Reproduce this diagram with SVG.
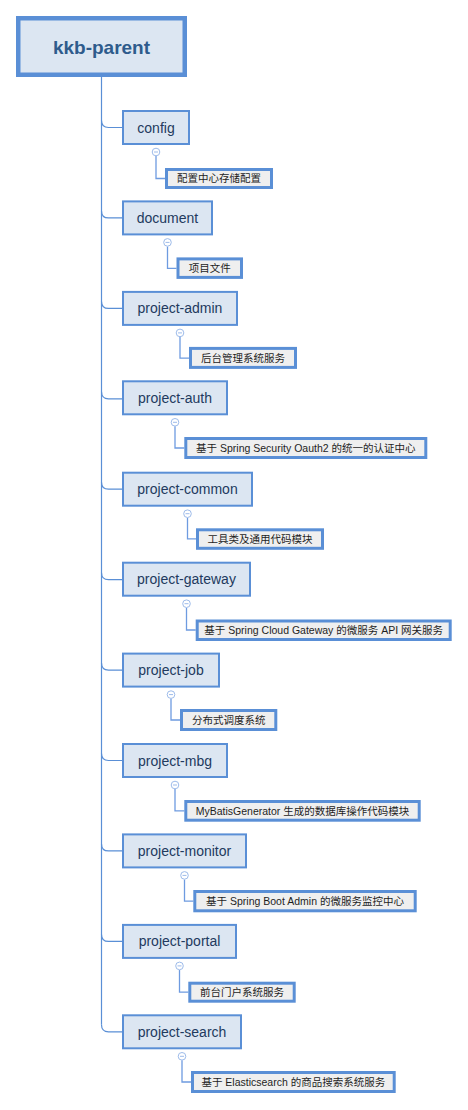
<svg xmlns="http://www.w3.org/2000/svg" width="468" height="1110" viewBox="0 0 468 1110">
<style>
.root rect{fill:#dce6f2;stroke:#5a8fd6;stroke-width:4.5}
.root text{font-family:"Liberation Sans","Noto Sans CJK SC",sans-serif;font-size:19px;font-weight:bold;fill:#2e5b8c;text-anchor:middle}
.node rect.box{fill:#dce6f2;stroke:#5a8fd6;stroke-width:2}
.node text.t{font-family:"Liberation Sans","Noto Sans CJK SC",sans-serif;font-size:14px;fill:#223a5e;text-anchor:middle}
.node rect.leaf{fill:#efefef;stroke:#5a8fd6;stroke-width:3}
.node text.l{font-family:"Liberation Sans","Noto Sans CJK SC",sans-serif;font-size:10.5px;fill:#1e1e1e;text-anchor:middle}
.node circle{fill:#fff;stroke:#9dbbea;stroke-width:1}
.node path.minus{stroke:#9dbbea;stroke-width:1}
.node path.sub{fill:none;stroke:#6e9be0;stroke-width:1.3}
.conn path{fill:none;stroke:#5a8fd6;stroke-width:1.2}
</style>
<g id="connectors" class="conn">
<path d="M101.5 77 V1024.8"/>
<path d="M101.5 120.5 Q101.5 127.5 108.5 127.5 H122"/>
<path d="M101.5 210.9 Q101.5 217.9 108.5 217.9 H122"/>
<path d="M101.5 301.4 Q101.5 308.4 108.5 308.4 H122"/>
<path d="M101.5 391.8 Q101.5 398.8 108.5 398.8 H122"/>
<path d="M101.5 482.2 Q101.5 489.2 108.5 489.2 H122"/>
<path d="M101.5 572.7 Q101.5 579.7 108.5 579.7 H122"/>
<path d="M101.5 663.1 Q101.5 670.1 108.5 670.1 H122"/>
<path d="M101.5 753.5 Q101.5 760.5 108.5 760.5 H122"/>
<path d="M101.5 843.9 Q101.5 850.9 108.5 850.9 H122"/>
<path d="M101.5 934.4 Q101.5 941.4 108.5 941.4 H122"/>
<path d="M101.5 1024.8 Q101.5 1031.8 108.5 1031.8 H122"/>
</g>
<g id="kkb-parent" class="root">
<rect x="18.25" y="18.25" width="166.5" height="56.5"/>
<text x="101.5" y="54">kkb-parent</text>
</g>
<g id="config" class="node">
<rect class="box" x="123" y="111" width="66" height="33"/>
<text class="t" x="156" y="132.5">config</text>
<path class="sub" d="M156 156 V178.5 H165"/>
<circle cx="156" cy="152" r="3.8"/><path class="minus" d="M154 152 H158"/>
<rect class="leaf" x="166.5" y="169.5" width="105" height="18"/>
<text class="l" x="219" y="182.3">配置中心存储配置</text>
</g>
<g id="document" class="node">
<rect class="box" x="123" y="201.4" width="89" height="33"/>
<text class="t" x="167.5" y="222.9">document</text>
<path class="sub" d="M167.5 246.4 V268.4 H176.5"/>
<circle cx="167.5" cy="242.4" r="3.8"/><path class="minus" d="M165.5 242.4 H169.5"/>
<rect class="leaf" x="178" y="258.9" width="63.5" height="18.5"/>
<text class="l" x="209.7" y="271.9">项目文件</text>
</g>
<g id="project-admin" class="node">
<rect class="box" x="123" y="291.9" width="114" height="33"/>
<text class="t" x="180" y="313.4">project-admin</text>
<path class="sub" d="M180 336.9 V358.1 H189"/>
<circle cx="180" cy="332.9" r="3.8"/><path class="minus" d="M178 332.9 H182"/>
<rect class="leaf" x="190.5" y="348.4" width="105" height="19"/>
<text class="l" x="243" y="361.6">后台管理系统服务</text>
</g>
<g id="project-auth" class="node">
<rect class="box" x="123" y="381.3" width="104" height="33"/>
<text class="t" x="175" y="402.8">project-auth</text>
<path class="sub" d="M175 426.3 V448 H184.3"/>
<circle cx="175" cy="422.3" r="3.8"/><path class="minus" d="M173 422.3 H177"/>
<rect class="leaf" x="185.8" y="438.5" width="240" height="19"/>
<text class="l" x="305.8" y="451.7">基于 Spring Security Oauth2 的统一的认证中心</text>
</g>
<g id="project-common" class="node">
<rect class="box" x="123" y="472.7" width="129" height="33"/>
<text class="t" x="187.5" y="494.2">project-common</text>
<path class="sub" d="M187.5 517.7 V538.8 H196"/>
<circle cx="187.5" cy="513.7" r="3.8"/><path class="minus" d="M185.5 513.7 H189.5"/>
<rect class="leaf" x="197.5" y="529.8" width="125" height="18.5"/>
<text class="l" x="260" y="542.8">工具类及通用代码模块</text>
</g>
<g id="project-gateway" class="node">
<rect class="box" x="123" y="562.7" width="127" height="33"/>
<text class="t" x="186.5" y="584.2">project-gateway</text>
<path class="sub" d="M186.5 607.7 V630 H195.7"/>
<circle cx="186.5" cy="603.7" r="3.8"/><path class="minus" d="M184.5 603.7 H188.5"/>
<rect class="leaf" x="197.2" y="621" width="253" height="18.5"/>
<text class="l" x="323.7" y="634">基于 Spring Cloud Gateway 的微服务 API 网关服务</text>
</g>
<g id="project-job" class="node">
<rect class="box" x="123" y="653.6" width="96" height="33"/>
<text class="t" x="171" y="675.1">project-job</text>
<path class="sub" d="M171 698.6 V720 H180"/>
<circle cx="171" cy="694.6" r="3.8"/><path class="minus" d="M169 694.6 H173"/>
<rect class="leaf" x="181.5" y="710.5" width="94.3" height="19"/>
<text class="l" x="228.7" y="723.7">分布式调度系统</text>
</g>
<g id="project-mbg" class="node">
<rect class="box" x="123" y="744" width="104" height="33"/>
<text class="t" x="175" y="765.5">project-mbg</text>
<path class="sub" d="M175 789 V810.8 H184.3"/>
<circle cx="175" cy="785" r="3.8"/><path class="minus" d="M173 785 H177"/>
<rect class="leaf" x="185.8" y="801.5" width="233.4" height="18.7"/>
<text class="l" x="302.5" y="814.6">MyBatisGenerator 生成的数据库操作代码模块</text>
</g>
<g id="project-monitor" class="node">
<rect class="box" x="123" y="834.4" width="123" height="33"/>
<text class="t" x="184.5" y="855.9">project-monitor</text>
<path class="sub" d="M184.5 879.4 V901.1 H193.3"/>
<circle cx="184.5" cy="875.4" r="3.8"/><path class="minus" d="M182.5 875.4 H186.5"/>
<rect class="leaf" x="194.8" y="891.5" width="220.4" height="19.3"/>
<text class="l" x="305" y="904.8">基于 Spring Boot Admin 的微服务监控中心</text>
</g>
<g id="project-portal" class="node">
<rect class="box" x="123" y="924.9" width="113" height="33"/>
<text class="t" x="179.5" y="946.4">project-portal</text>
<path class="sub" d="M179.5 969.9 V992.2 H188.3"/>
<circle cx="179.5" cy="965.9" r="3.8"/><path class="minus" d="M177.5 965.9 H181.5"/>
<rect class="leaf" x="189.8" y="983.2" width="104.4" height="18"/>
<text class="l" x="242" y="996">前台门户系统服务</text>
</g>
<g id="project-search" class="node">
<rect class="box" x="123" y="1015.3" width="118" height="33"/>
<text class="t" x="182" y="1036.8">project-search</text>
<path class="sub" d="M182 1060.3 V1082 H191"/>
<circle cx="182" cy="1056.3" r="3.8"/><path class="minus" d="M180 1056.3 H184"/>
<rect class="leaf" x="192.5" y="1072.5" width="201.7" height="19"/>
<text class="l" x="293.3" y="1085.7">基于 Elasticsearch 的商品搜索系统服务</text>
</g>
</svg>
